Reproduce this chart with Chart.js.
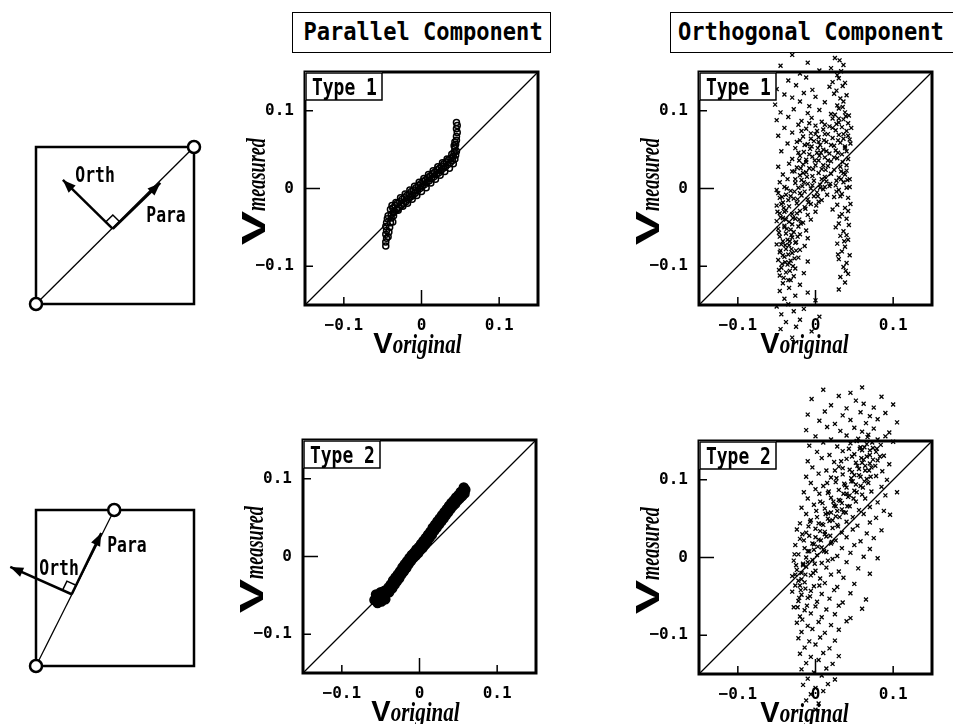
<!DOCTYPE html>
<html>
<head>
<meta charset="utf-8">
<script src="https://cdn.jsdelivr.net/npm/chart.js@4.4.1/dist/chart.umd.min.js"></script>
<style>
    html, body { margin: 0; padding: 0; background: #fff; }
    body { position: relative; width: 953px; height: 724px; overflow: hidden; }
    canvas { position: absolute; }
    .head {
        position: absolute; box-sizing: border-box; top: 12px; height: 41px;
        border: 1.5px solid #000; background: #fff; color: #000; z-index: 5;
        font: bold 24px "DejaVu Sans Mono", monospace; line-height: 38px; white-space: pre;
    }
    .head span { display: inline-block; transform: scaleX(0.92); }
</style>
</head>
<body>
<div class="head" style="left:292px;width:259px;text-align:center;"><span>Parallel Component</span></div>
<div class="head" style="left:670px;width:300px;padding-left:7px;"><span style="transform-origin:left center;">Orthogonal Component</span></div>
<canvas id="sketch1"></canvas>
<canvas id="sketch2"></canvas>
<canvas id="par1"></canvas>
<canvas id="orth1"></canvas>
<canvas id="par2"></canvas>
<canvas id="orth2"></canvas>
<script>
// axes shared by the four scatter panels
const axisRange = [-0.15, 0.15];
const tickValues = [-0.1, 0, 0.1];
const tickLabels = ['\u22120.1', '0', '0.1'];
const panelTags = ['Type 1', 'Type 2'];

// schematics (unit square): segment ends, foot of the arrows, arrow tips
const squareCorners = [[0, 0], [1, 0], [1, 1], [0, 1], [0, 0]];
const type1Ends = [[0, 0], [1, 1]];
const type1Foot = [0.486, 0.478];
const type1Para = [0.787, 0.771];
const type1Orth = [0.17, 0.79];
const type2Ends = [[0, 0], [0.495, 1]];
const type2Foot = [0.226, 0.46];
const type2Para = [0.413, 0.853];
const type2Orth = [-0.163, 0.635];

// parallel component, type 1 (V_original, V_measured)
const par1Points = [
    [-0.046,-0.074],[-0.046,-0.069],[-0.045,-0.064],[-0.046,-0.059],[-0.045,-0.054],[-0.046,-0.049],[-0.045,-0.044],[-0.044,-0.039],
    [-0.043,-0.035],[-0.043,-0.062],[-0.042,-0.056],[-0.041,-0.050],[-0.040,-0.044],[-0.039,-0.038],[-0.037,-0.043],[-0.036,-0.035],
    [-0.040,-0.027],[-0.039,-0.033],[-0.037,-0.025],[-0.035,-0.030],[-0.034,-0.022],[-0.032,-0.027],[-0.031,-0.019],[-0.029,-0.024],
    [-0.028,-0.017],[-0.026,-0.022],[-0.025,-0.014],[-0.023,-0.019],[-0.022,-0.012],[-0.020,-0.017],[-0.019,-0.009],[-0.017,-0.014],
    [-0.016,-0.007],[-0.014,-0.011],[-0.013,-0.004],[-0.011,-0.009],[-0.010,-0.002],[-0.008,-0.006],[-0.007,0.001],[-0.005,-0.003],
    [-0.004,0.004],[-0.002,0.000],[-0.001,0.006],[0.001,0.003],[0.002,0.009],[0.004,0.005],[0.005,0.011],[0.007,0.008],
    [0.008,0.014],[0.010,0.010],[0.011,0.016],[0.013,0.013],[0.014,0.019],[0.016,0.015],[0.017,0.021],[0.019,0.018],
    [0.020,0.024],[0.022,0.020],[0.023,0.026],[0.025,0.023],[0.026,0.029],[0.028,0.026],[0.029,0.032],[0.031,0.028],
    [0.032,0.034],[0.034,0.031],[0.035,0.037],[0.037,0.033],[0.038,0.039],[0.040,0.036],[0.041,0.042],
    [0.042,0.047],[0.043,0.038],[0.043,0.052],[0.044,0.043],[0.044,0.057],[0.045,0.048],[0.045,0.062],[0.045,0.067],
    [0.046,0.072],[0.045,0.077],[0.046,0.081],[0.045,0.085],[0.043,0.060],[0.042,0.055],
    [-0.038,-0.022],[-0.033,-0.018],[-0.027,-0.012],[-0.021,-0.007],[-0.015,-0.002],[-0.009,0.003],[-0.003,0.008],[0.003,0.013],
    [0.009,0.018],[0.015,0.023],[0.021,0.028],[0.027,0.033],[0.033,0.038],[0.039,0.044],
    [-0.036,-0.031],[-0.030,-0.028],[-0.024,-0.023],[-0.018,-0.019],[-0.012,-0.014],[-0.006,-0.009],[0.000,-0.004],[0.006,0.001],
    [0.012,0.007],[0.018,0.012],[0.024,0.017],[0.030,0.022],[0.036,0.026],[0.041,0.032]
];

// parallel component, type 2
const par2Points = [
    [-0.058,-0.056],[-0.056,-0.049],[-0.054,-0.060],[-0.052,-0.053],[-0.050,-0.046],[-0.049,-0.058],[-0.047,-0.051],[-0.045,-0.044],
    [-0.044,-0.055],[-0.042,-0.047],[-0.040,-0.040],[-0.039,-0.046],[-0.037,-0.036],[-0.035,-0.041],[-0.034,-0.031],[-0.032,-0.036],
    [-0.031,-0.027],[-0.029,-0.032],[-0.028,-0.023],[-0.026,-0.028],[-0.025,-0.019],[-0.023,-0.023],[-0.022,-0.014],[-0.020,-0.019],
    [-0.019,-0.010],[-0.017,-0.015],[-0.016,-0.006],[-0.014,-0.010],[-0.013,-0.002],[-0.011,-0.006],[-0.010,0.002],[-0.008,-0.002],
    [-0.007,0.005],[-0.005,0.001],[-0.004,0.009],[-0.002,0.004],[-0.001,0.012],[0.001,0.008],[0.002,0.016],[0.004,0.011],
    [0.005,0.020],[0.007,0.015],[0.008,0.024],[0.010,0.019],[0.011,0.028],[0.013,0.024],[0.014,0.032],[0.016,0.028],
    [0.017,0.037],[0.019,0.033],[0.020,0.041],[0.022,0.037],[0.023,0.045],[0.025,0.041],[0.026,0.049],[0.028,0.045],
    [0.029,0.053],[0.031,0.049],[0.032,0.057],[0.034,0.053],[0.035,0.061],[0.037,0.057],[0.038,0.065],[0.040,0.061],
    [0.041,0.069],[0.043,0.065],[0.044,0.072],[0.046,0.068],[0.047,0.076],[0.049,0.072],[0.050,0.079],[0.052,0.075],
    [0.053,0.083],[0.055,0.078],[0.056,0.085],[0.058,0.081],[0.059,0.086],[0.057,0.089]
];

// orthogonal component, type 1
const orth1Points = [
    [-0.030,0.172],[0.025,0.168],[0.031,0.165],[-0.045,0.158],[-0.010,0.162],[0.020,0.155],[0.036,0.159],
    [-0.020,0.148],[0.005,0.152],[0.028,0.146],[0.033,0.151],[-0.035,0.139],[-0.012,0.143],[0.022,0.137],[0.030,0.142],[0.038,0.136],
    [-0.050,0.128],[-0.025,0.133],[-0.004,0.127],[0.018,0.131],[0.027,0.126],[0.035,0.132],
    [-0.040,0.121],[-0.030,0.117],[-0.015,0.123],[0.000,0.118],[0.024,0.122],[0.032,0.116],[0.040,0.120],
    [-0.052,0.108],[-0.020,0.112],[-0.008,0.106],[0.012,0.111],[0.028,0.107],[0.036,0.112],
    [-0.045,0.098],[-0.028,0.102],[-0.010,0.097],[0.005,0.101],[0.020,0.096],[0.030,0.103],[0.038,0.098],[0.043,0.094],
    [-0.050,0.088],[-0.035,0.092],[-0.018,0.087],[-0.005,0.091],[0.008,0.086],[0.022,0.090],[0.030,0.085],[0.036,0.089],[0.042,0.084],
    [-0.040,0.078],[-0.022,0.082],[-0.012,0.077],[0.000,0.081],[0.010,0.076],[0.018,0.080],[0.026,0.075],[0.034,0.079],[0.040,0.074],[0.046,0.078],
    [-0.048,0.068],[-0.030,0.072],[-0.016,0.067],[-0.006,0.071],[0.004,0.066],[0.012,0.070],[0.022,0.065],[0.030,0.069],[0.036,0.064],[0.042,0.068],
    [-0.036,0.058],[-0.020,0.062],[-0.010,0.057],[-0.002,0.061],[0.006,0.056],[0.014,0.060],[0.024,0.055],[0.032,0.059],[0.038,0.054],[0.045,0.058],
    [-0.044,0.048],[-0.026,0.052],[-0.015,0.047],[-0.007,0.051],[0.002,0.046],[0.010,0.050],[0.018,0.045],[0.026,0.049],[0.034,0.044],[0.040,0.048],
    [-0.030,0.038],[-0.020,0.042],[-0.012,0.037],[-0.004,0.041],[0.004,0.036],[0.012,0.040],[0.020,0.035],[0.028,0.039],[0.035,0.034],[0.042,0.038],
    [-0.048,0.028],[-0.034,0.032],[-0.024,0.027],[-0.016,0.031],[-0.008,0.026],[0.000,0.030],[0.008,0.025],[0.016,0.029],[0.024,0.024],[0.032,0.028],[0.040,0.023],
    [-0.042,0.018],[-0.030,0.022],[-0.020,0.017],[-0.012,0.021],[-0.004,0.016],[0.004,0.020],[0.012,0.015],[0.020,0.019],[0.030,0.014],[0.038,0.018],
    [-0.046,0.008],[-0.036,0.012],[-0.026,0.007],[-0.018,0.011],[-0.010,0.006],[-0.002,0.010],[0.006,0.005],[0.014,0.009],[0.026,0.004],[0.036,0.008],[0.044,0.012],
    [-0.050,-0.002],[-0.040,0.002],[-0.032,-0.003],[-0.022,0.001],[-0.014,-0.004],[-0.006,0.000],[0.002,-0.005],[0.010,-0.001],[0.018,0.003],[0.030,-0.002],[0.040,0.001],
    [-0.046,-0.012],[-0.038,-0.008],[-0.028,-0.013],[-0.018,-0.009],[-0.010,-0.014],[-0.002,-0.010],[0.008,-0.015],[0.024,-0.011],[0.034,-0.007],[0.042,-0.012],
    [-0.050,-0.022],[-0.042,-0.018],[-0.034,-0.023],[-0.024,-0.019],[-0.014,-0.024],[-0.006,-0.020],[0.004,-0.017],[0.028,-0.021],[0.038,-0.025],
    [-0.046,-0.032],[-0.038,-0.028],[-0.030,-0.033],[-0.020,-0.029],[-0.010,-0.034],[0.000,-0.030],[0.022,-0.027],[0.034,-0.033],[0.042,-0.029],
    [-0.050,-0.042],[-0.042,-0.038],[-0.034,-0.043],[-0.026,-0.039],[-0.016,-0.044],[-0.006,-0.040],[0.030,-0.045],[0.040,-0.039],
    [-0.048,-0.052],[-0.040,-0.048],[-0.032,-0.053],[-0.022,-0.049],[-0.012,-0.054],[0.026,-0.050],[0.036,-0.055],
    [-0.046,-0.062],[-0.038,-0.058],[-0.030,-0.063],[-0.020,-0.059],[-0.010,-0.064],[0.032,-0.061],[0.042,-0.066],
    [-0.050,-0.072],[-0.042,-0.068],[-0.034,-0.073],[-0.025,-0.069],[-0.014,-0.074],[0.028,-0.071],[0.038,-0.075],
    [-0.046,-0.082],[-0.038,-0.078],[-0.030,-0.083],[-0.020,-0.079],[0.034,-0.081],[0.044,-0.086],
    [-0.048,-0.092],[-0.040,-0.088],[-0.032,-0.093],[-0.022,-0.089],[-0.010,-0.094],[0.030,-0.091],[0.040,-0.096],
    [-0.044,-0.102],[-0.036,-0.098],[-0.026,-0.103],[0.036,-0.101],
    [-0.046,-0.112],[-0.038,-0.108],[-0.028,-0.113],[-0.015,-0.109],[0.032,-0.114],[0.042,-0.110],
    [-0.042,-0.122],[-0.032,-0.118],[-0.020,-0.124],[0.038,-0.121],[-0.046,-0.132],[-0.034,-0.128],[-0.010,-0.134],[0.030,-0.130],
    [-0.040,-0.142],[-0.026,-0.138],[0.000,-0.144],[-0.050,-0.152],[-0.035,-0.149],[-0.015,-0.155],
    [-0.044,-0.162],[-0.028,-0.158],[0.005,-0.165],[-0.038,-0.172],[-0.020,-0.169],
    [-0.045,-0.181],[-0.025,-0.178],[-0.005,-0.184],[-0.030,-0.192],
    [-0.044,-0.020],[-0.040,-0.050],[-0.036,-0.066],[-0.042,-0.086],[-0.032,-0.010],[-0.038,-0.040],[-0.028,-0.056],[-0.044,-0.072],
    [-0.034,-0.096],[-0.030,-0.046],[-0.040,-0.030],[-0.026,-0.070],[-0.016,0.020],[-0.008,0.044],[0.004,0.060],[0.010,0.030],
    [-0.004,0.004],[0.014,0.048],[-0.020,-0.006],[0.000,0.070],[0.008,0.012],[-0.012,0.034],[0.036,0.070],[0.040,0.030],
    [0.032,-0.010],[0.038,0.052],[0.044,0.002],[0.030,0.090],[0.040,-0.060],[0.036,0.020],
    [-0.048,-0.006],[-0.041,-0.025],[-0.035,-0.015],[-0.027,-0.004],[-0.045,-0.037],[-0.037,-0.052],[-0.029,-0.038],[-0.023,-0.062],
    [-0.047,-0.057],[-0.039,-0.073],[-0.031,-0.078],[-0.043,-0.097],[-0.035,-0.085],[-0.027,-0.090],[-0.041,-0.115],[-0.033,-0.106],
    [-0.024,-0.032],[-0.019,-0.045],[-0.026,0.012],[-0.019,0.026],[-0.011,0.015],[-0.003,0.025],[0.005,0.042],[0.013,0.024],
    [-0.014,0.056],[-0.006,0.064],[0.003,0.052],[0.011,0.062],[-0.022,0.046],[0.016,0.036],[-0.009,-0.018],[0.001,-0.022],
    [0.006,0.001],[-0.017,0.003],[0.027,0.083],[0.039,0.093],[0.044,0.063],[0.029,0.046],[0.041,0.011],[0.027,0.010],
    [0.033,0.022],[0.045,-0.020],[0.031,-0.036],[0.037,-0.068],[0.043,-0.047],[0.029,-0.085],[0.039,-0.106],[0.035,0.105],[0.025,0.095],
    [-0.024,0.060],[-0.018,0.074],[-0.008,0.084],[0.002,0.074],[0.016,0.070],[0.020,0.056],[0.024,0.040],[0.019,0.006],
    [0.015,-0.008],[-0.013,-0.026],[-0.021,0.036],[-0.027,0.022],[-0.001,0.036],[0.007,0.046],[-0.005,0.054],[0.012,0.082],
    [0.022,0.078],[0.029,0.062],[0.033,0.012],[0.027,-0.004],[-0.015,0.008],[-0.023,-0.014],[0.003,-0.010],[0.012,0.002],
    [-0.049,-0.030],[-0.043,-0.011],[-0.037,0.000],[-0.031,-0.060],[-0.045,-0.080],[-0.033,-0.068],[-0.039,-0.095],[-0.029,-0.100],
    [-0.047,-0.105],[-0.021,-0.040],[-0.025,-0.080],[-0.035,-0.118]
];

// orthogonal component, type 2
const orth2Points = [
    [0.010,0.216],[0.045,0.212],[0.060,0.219],[-0.005,0.204],[0.030,0.208],[0.052,0.202],[0.085,0.207],
    [0.020,0.196],[0.040,0.192],[0.062,0.198],[0.075,0.193],[0.100,0.197],
    [-0.010,0.184],[0.012,0.188],[0.035,0.183],[0.058,0.187],[0.070,0.182],[0.090,0.186],
    [0.005,0.176],[0.025,0.172],[0.045,0.177],[0.065,0.173],[0.080,0.178],[0.105,0.174],
    [-0.012,0.164],[0.015,0.168],[0.032,0.163],[0.050,0.167],[0.060,0.162],[0.075,0.166],[0.095,0.161],
    [0.000,0.156],[0.020,0.152],[0.040,0.157],[0.055,0.153],[0.068,0.158],[0.080,0.152],[0.090,0.156],
    [-0.008,0.144],[0.010,0.148],[0.028,0.143],[0.045,0.147],[0.058,0.142],[0.066,0.146],[0.074,0.141],[0.084,0.145],[0.100,0.149],
    [0.002,0.136],[0.018,0.132],[0.035,0.137],[0.050,0.133],[0.060,0.138],[0.070,0.132],[0.078,0.136],[0.088,0.131],
    [-0.010,0.124],[0.008,0.128],[0.024,0.123],[0.040,0.127],[0.052,0.122],[0.062,0.126],[0.070,0.121],[0.080,0.125],[0.095,0.120],
    [-0.004,0.116],[0.014,0.112],[0.030,0.117],[0.044,0.113],[0.054,0.118],[0.064,0.112],[0.072,0.116],[0.086,0.111],
    [-0.012,0.104],[0.004,0.108],[0.020,0.103],[0.035,0.107],[0.046,0.102],[0.056,0.106],[0.066,0.101],[0.078,0.105],[0.092,0.100],
    [-0.006,0.096],[0.010,0.092],[0.026,0.097],[0.038,0.093],[0.048,0.098],[0.058,0.092],[0.068,0.096],[0.085,0.091],
    [-0.015,0.084],[0.000,0.088],[0.016,0.083],[0.030,0.087],[0.040,0.082],[0.050,0.086],[0.060,0.081],[0.072,0.085],[0.090,0.080],[0.105,0.084],
    [-0.010,0.076],[0.006,0.072],[0.020,0.077],[0.032,0.073],[0.042,0.078],[0.052,0.072],[0.064,0.076],[0.080,0.071],
    [-0.018,0.064],[-0.002,0.068],[0.012,0.063],[0.024,0.067],[0.034,0.062],[0.044,0.066],[0.056,0.061],[0.070,0.065],[0.088,0.060],
    [-0.012,0.056],[0.002,0.052],[0.016,0.057],[0.026,0.053],[0.036,0.058],[0.048,0.052],[0.062,0.056],[0.078,0.051],[0.096,0.055],
    [-0.020,0.044],[-0.006,0.048],[0.008,0.043],[0.018,0.047],[0.028,0.042],[0.040,0.046],[0.054,0.041],[0.070,0.045],
    [-0.024,0.036],[-0.012,0.032],[0.000,0.037],[0.012,0.033],[0.022,0.038],[0.034,0.032],[0.048,0.036],[0.066,0.031],[0.085,0.035],
    [-0.020,0.024],[-0.008,0.028],[0.004,0.023],[0.014,0.027],[0.026,0.022],[0.040,0.026],[0.058,0.021],[0.075,0.025],
    [-0.026,0.016],[-0.014,0.012],[-0.002,0.017],[0.008,0.013],[0.020,0.018],[0.034,0.012],[0.050,0.016],[0.070,0.011],
    [-0.022,0.004],[-0.010,0.008],[0.002,0.003],[0.014,0.007],[0.028,0.002],[0.045,0.006],[0.062,0.001],
    [-0.028,-0.004],[-0.016,-0.008],[-0.004,-0.003],[0.008,-0.007],[0.022,-0.002],[0.040,-0.006],[0.080,-0.001],
    [-0.024,-0.016],[-0.012,-0.012],[0.000,-0.017],[0.014,-0.013],[0.030,-0.018],[0.055,-0.014],
    [-0.030,-0.024],[-0.018,-0.028],[-0.006,-0.023],[0.006,-0.027],[0.020,-0.022],[0.036,-0.026],[0.070,-0.021],
    [-0.026,-0.036],[-0.014,-0.032],[-0.002,-0.037],[0.012,-0.033],[0.028,-0.038],[0.050,-0.034],
    [-0.030,-0.044],[-0.018,-0.048],[-0.006,-0.043],[0.008,-0.047],[0.024,-0.042],[0.045,-0.046],
    [-0.022,-0.056],[-0.010,-0.052],[0.002,-0.057],[0.018,-0.053],[0.035,-0.058],[0.065,-0.054],
    [-0.028,-0.064],[-0.014,-0.068],[0.000,-0.063],[0.014,-0.067],[0.030,-0.062],[0.060,-0.066],
    [-0.020,-0.076],[-0.006,-0.072],[0.008,-0.077],[0.025,-0.073],[0.045,-0.078],
    [-0.024,-0.084],[-0.010,-0.088],[0.004,-0.083],[0.020,-0.087],[0.040,-0.082],
    [-0.018,-0.096],[-0.004,-0.092],[0.012,-0.097],[0.030,-0.093],[-0.022,-0.104],[-0.008,-0.108],[0.006,-0.103],[0.025,-0.107],
    [-0.014,-0.116],[0.000,-0.112],[0.018,-0.117],[-0.020,-0.124],[-0.006,-0.128],[0.010,-0.123],[0.030,-0.127],
    [-0.012,-0.136],[0.004,-0.132],[0.022,-0.137],[-0.018,-0.144],[-0.002,-0.148],[0.014,-0.143],
    [-0.010,-0.156],[0.008,-0.152],[0.025,-0.157],[-0.016,-0.164],[0.000,-0.168],[0.016,-0.163],
    [-0.006,-0.176],[0.010,-0.172],[-0.012,-0.184],[0.004,-0.188],[0.000,-0.196],
    [-0.022,-0.030],[-0.018,-0.020],[-0.016,-0.010],[-0.012,0.000],[-0.008,0.008],[-0.004,0.018],[0.000,0.026],[0.006,0.034],
    [0.010,0.042],[0.016,0.050],[0.020,0.058],[0.026,0.066],[0.030,0.074],[0.036,0.082],[0.040,0.090],[0.046,0.098],
    [0.050,0.106],[0.056,0.114],[0.060,0.122],[0.066,0.130],[0.070,0.138],
    [-0.026,-0.022],[-0.020,-0.036],[-0.010,-0.006],[-0.002,0.010],[0.004,0.044],[0.012,0.030],[0.022,0.048],[0.028,0.060],
    [0.034,0.070],[0.044,0.080],[0.052,0.094],[0.058,0.104],[0.064,0.118],[0.074,0.126],
    [-0.025,-0.010],[-0.019,-0.042],[-0.013,-0.022],[-0.007,-0.050],[-0.001,-0.008],[0.003,0.014],[-0.015,0.022],[-0.009,0.040],
    [0.007,0.022],[0.013,0.056],[0.019,0.028],[0.023,0.072],[0.031,0.052],[0.037,0.095],[0.041,0.066],[0.047,0.110],
    [0.053,0.084],[0.059,0.128],[0.063,0.098],[0.069,0.112],[0.073,0.148],[0.077,0.118],[0.067,0.155],[0.057,0.140],
    [0.047,0.130],[0.035,0.115],[0.027,0.102],[0.017,0.085],[0.009,0.070],[0.001,0.060],[-0.007,0.046],[-0.017,0.030],
    [-0.027,0.004],[-0.021,-0.052],[-0.011,-0.062],[0.005,-0.036],[0.016,-0.004],
    [0.033,0.124],[0.043,0.140],[0.053,0.150],[0.063,0.142],[0.079,0.140],[0.083,0.130],[0.071,0.104],[0.061,0.090],
    [0.049,0.076],[0.039,0.058],[0.029,0.040],[0.021,0.020],[0.011,0.008],[-0.003,-0.020],[-0.013,-0.040],[-0.023,-0.064],
    [-0.017,-0.080],[0.015,0.096],[0.025,0.112],[0.005,0.082]
];

const toXY = p => ({ x: p[0], y: p[1] });
const MONO = '"DejaVu Sans Mono", monospace';

function stretchText(ctx, text, x, y, font, sx) {
    ctx.save();
    ctx.translate(x, y);
    ctx.scale(sx, 1);
    ctx.font = font;
    ctx.fillText(text, 0, 0);
    ctx.restore();
}

function textWidth(ctx, text, font, sx) {
    ctx.font = font;
    return ctx.measureText(text).width * sx;
}

// the clouds spill over the frame, so let the points draw on the whole canvas
const openArea = {
    id: 'openArea',
    beforeDatasetsDraw(chart) {
        chart.$keptArea = Object.assign({}, chart.chartArea);
        Object.assign(chart.chartArea, { left: 0, top: 0, right: chart.width, bottom: chart.height });
    },
    afterDatasetsDraw(chart) {
        Object.assign(chart.chartArea, chart.$keptArea);
    }
};

// frame, inward ticks, type tag and the two axis titles of a scatter panel
function panelDecor(tag, xShift) {
    return {
        id: 'panelDecor',
        afterDatasetsDraw(chart) {
            const { ctx, chartArea: a, scales: { x, y } } = chart;
            ctx.save();
            ctx.strokeStyle = '#000';
            ctx.fillStyle = '#000';
            ctx.lineWidth = 1.5;
            ctx.beginPath();
            tickValues.forEach(v => {
                const len = v === 0 ? 15 : 8;
                const px = x.getPixelForValue(v);
                const py = y.getPixelForValue(v);
                ctx.moveTo(px, a.bottom); ctx.lineTo(px, a.bottom - len);
                ctx.moveTo(a.left, py); ctx.lineTo(a.left + len, py);
            });
            ctx.stroke();
            ctx.lineWidth = 3;
            ctx.strokeRect(a.left, a.top, a.right - a.left, a.bottom - a.top);

            ctx.fillStyle = '#fff';
            ctx.fillRect(a.left, a.top, 77, 28);
            ctx.lineWidth = 1.5;
            ctx.strokeRect(a.left + 1, a.top + 1, 76, 27);
            ctx.fillStyle = '#000';
            stretchText(ctx, tag, a.left + 7, a.top + 23, 'bold 23px ' + MONO, 0.78);

            const vFont = 'bold 29px "Liberation Sans"';
            const sFont = 'italic bold 27px "Liberation Serif"';
            const wV = textWidth(ctx, 'V', vFont, 1);
            const wO = textWidth(ctx, 'original', sFont, 0.78);
            const x0 = (a.left + a.right) / 2 + xShift - (wV + wO) / 2;
            stretchText(ctx, 'V', x0, a.bottom + 48, vFont, 1);
            stretchText(ctx, 'original', x0 + wV, a.bottom + 48, sFont, 0.78);

            const yvFont = 'bold 34px "Liberation Sans"';
            const ysFont = 'italic bold 28px "Liberation Serif"';
            const wV2 = textWidth(ctx, 'V', yvFont, 1.5);
            const wM = textWidth(ctx, 'measured', ysFont, 0.65);
            ctx.save();
            ctx.translate(a.left - 40, (a.top + a.bottom) / 2 + 3 + (wV2 + wM) / 2);
            ctx.rotate(-Math.PI / 2);
            stretchText(ctx, 'V', 0, 0, yvFont, 1.5);
            stretchText(ctx, 'measured', wV2, 0, ysFont, 0.65);
            ctx.restore();
            ctx.restore();
        }
    };
}

function buildPanel(id, frame, canvasBottom, points, marker, tag, xShift) {
    const padLeft = 110, padTop = 60, padRight = 20, size = 233;
    const cv = document.getElementById(id);
    const top = frame.top - padTop;
    cv.width = padLeft + size + padRight;
    cv.height = canvasBottom - top;
    cv.style.left = (frame.left - padLeft) + 'px';
    cv.style.top = top + 'px';
    const xAxisH = cv.height - padTop - size;
    const tickFont = { family: MONO, weight: 'bold', size: 16 };

    new Chart(cv, {
        type: 'scatter',
        data: {
            datasets: [
                {
                    data: [toXY([axisRange[0], axisRange[0]]), toXY([axisRange[1], axisRange[1]])],
                    showLine: true, borderColor: '#000', borderWidth: 1.3, pointRadius: 0, clip: false
                },
                Object.assign({ data: points.map(toXY), clip: false }, marker)
            ]
        },
        options: {
            responsive: false,
            animation: false,
            devicePixelRatio: 1,
            events: [],
            layout: { padding: { left: 0, top: padTop, right: padRight, bottom: 0 } },
            plugins: { legend: { display: false }, tooltip: { enabled: false } },
            scales: {
                x: {
                    type: 'linear', min: axisRange[0], max: axisRange[1],
                    grid: { display: false }, border: { display: false },
                    afterBuildTicks: s => { s.ticks = tickValues.map(v => ({ value: v })); },
                    afterFit: s => { s.height = xAxisH; },
                    ticks: { callback: (v, i) => tickLabels[i], font: tickFont, color: '#000', padding: 3, maxRotation: 0, autoSkip: false }
                },
                y: {
                    type: 'linear', min: axisRange[0], max: axisRange[1],
                    grid: { display: false }, border: { display: false },
                    afterBuildTicks: s => { s.ticks = tickValues.map(v => ({ value: v })); },
                    afterFit: s => { s.width = padLeft; },
                    ticks: { callback: (v, i) => tickLabels[i], font: tickFont, color: '#000', padding: 3, autoSkip: false }
                }
            }
        },
        plugins: [openArea, panelDecor(tag, xShift)]
    });
}

// arrow heads, right-angle mark and labels of a schematic
function sketchDecor(foot, para, orth, labels) {
    return {
        id: 'sketchDecor',
        afterDatasetsDraw(chart) {
            const { ctx, scales: { x, y } } = chart;
            const px = p => [x.getPixelForValue(p[0]), y.getPixelForValue(p[1])];
            const f = px(foot);
            const unit = t => { const dx = t[0] - f[0], dy = t[1] - f[1], l = Math.hypot(dx, dy); return [dx / l, dy / l]; };
            ctx.save();
            ctx.fillStyle = '#000';
            ctx.strokeStyle = '#000';
            [para, orth].forEach(tipValue => {
                const t = px(tipValue), u = unit(t);
                ctx.beginPath();
                ctx.moveTo(t[0], t[1]);
                ctx.lineTo(t[0] - 13 * u[0] - 5 * u[1], t[1] - 13 * u[1] + 5 * u[0]);
                ctx.lineTo(t[0] - 13 * u[0] + 5 * u[1], t[1] - 13 * u[1] - 5 * u[0]);
                ctx.closePath();
                ctx.fill();
            });
            const u = unit(px(para)), v = unit(px(orth)), s = 10;
            ctx.lineWidth = 1.5;
            ctx.beginPath();
            ctx.moveTo(f[0] + s * u[0], f[1] + s * u[1]);
            ctx.lineTo(f[0] + s * u[0] + s * v[0], f[1] + s * u[1] + s * v[1]);
            ctx.lineTo(f[0] + s * v[0], f[1] + s * v[1]);
            ctx.stroke();
            labels.forEach(([text, pos]) => {
                const p = px(pos);
                stretchText(ctx, text, p[0], p[1], 'bold 21px ' + MONO, 0.78);
            });
            ctx.restore();
        }
    };
}

function buildSketch(id, box, ends, foot, para, orth, labels) {
    const cv = document.getElementById(id);
    cv.width = box.w;
    cv.height = box.h;
    cv.style.left = box.left + 'px';
    cv.style.top = box.top + 'px';
    const line = (data, width) => ({ data: data.map(toXY), showLine: true, borderColor: '#000', borderWidth: width, pointRadius: 0, clip: false });

    new Chart(cv, {
        type: 'scatter',
        data: {
            datasets: [
                { data: ends.map(toXY), pointRadius: 6, pointBorderWidth: 2.5, pointBorderColor: '#000', pointBackgroundColor: '#fff', clip: false },
                line([foot, para], 2.5),
                line([foot, orth], 2.5),
                line(ends, 1.3),
                line(squareCorners, 2.5)
            ]
        },
        options: {
            responsive: false,
            animation: false,
            devicePixelRatio: 1,
            events: [],
            layout: { padding: box.pad },
            plugins: { legend: { display: false }, tooltip: { enabled: false } },
            scales: {
                x: { type: 'linear', display: false, min: 0, max: 1 },
                y: { type: 'linear', display: false, min: 0, max: 1 }
            }
        },
        plugins: [sketchDecor(foot, para, orth, labels)]
    });
}

buildSketch('sketch1', { left: 0, top: 130, w: 215, h: 200, pad: { left: 36, right: 21, top: 17, bottom: 26 } },
    type1Ends, type1Foot, type1Para, type1Orth, [['Orth', [0.249, 0.777]], ['Para', [0.698, 0.522]]]);
buildSketch('sketch2', { left: 0, top: 495, w: 215, h: 190, pad: { left: 36, right: 21, top: 15, bottom: 19 } },
    type2Ends, type2Foot, type2Para, type2Orth, [['Orth', [0.021, 0.583]], ['Para', [0.451, 0.731]]]);

const parMarker1 = { pointStyle: 'circle', pointRadius: 3, pointBorderWidth: 1.5, pointBorderColor: '#000', pointBackgroundColor: 'rgba(255,255,255,0)' };
const parMarker2 = { pointStyle: 'circle', pointRadius: 4.5, pointBorderWidth: 1.5, pointBorderColor: '#000', pointBackgroundColor: '#000' };
const cloudMarker = { pointStyle: 'crossRot', pointRadius: 2.8, pointBorderWidth: 1.3, pointBorderColor: '#000', pointBackgroundColor: '#000' };

buildPanel('par1', { left: 305, top: 72 }, 370, par1Points, parMarker1, panelTags[0], -4);
buildPanel('orth1', { left: 699, top: 72 }, 370, orth1Points, cloudMarker, panelTags[0], -11);
buildPanel('par2', { left: 303, top: 440 }, 724, par2Points, parMarker2, panelTags[1], -4);
buildPanel('orth2', { left: 699, top: 441 }, 724, orth2Points, cloudMarker, panelTags[1], -11);
</script>
</body>
</html>
